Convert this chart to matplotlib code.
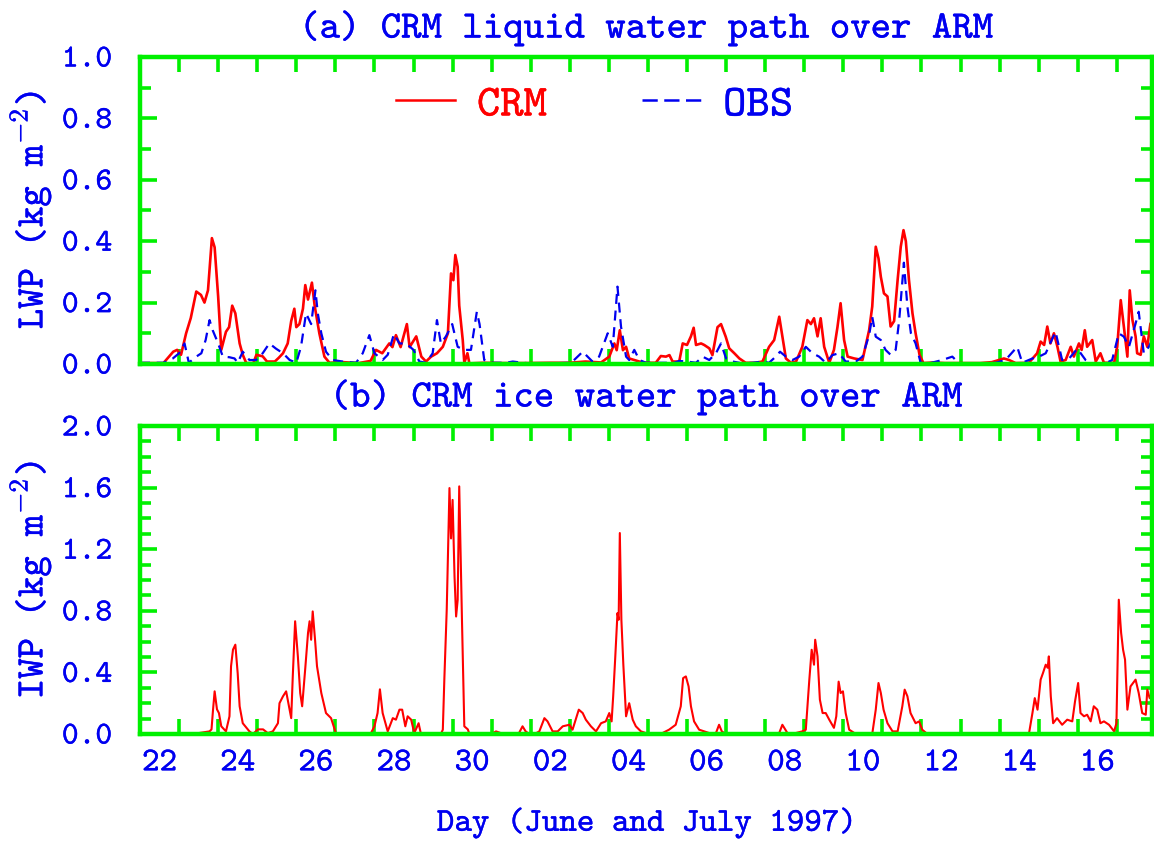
import matplotlib
matplotlib.use("Agg")
import matplotlib.pyplot as plt
import matplotlib.patheffects as pe
from matplotlib.lines import Line2D
import numpy as np

plt.rcParams['mathtext.fontset'] = 'cm'

# time axis: days since 00 UTC 22 June 1997
day_labels = ['22', '24', '26', '28', '30', '02', '04', '06', '08', '10', '12', '14', '16']
label_pos = np.arange(0.5, 25, 2.0)

# (a) CRM liquid water path
lwp_crm_t = [0.0, 0.6, 0.85, 0.95, 1.05, 1.18, 1.30, 1.44, 1.56, 1.65, 1.74, 1.84, 1.91, 2.0, 2.08,
             2.2, 2.28, 2.36, 2.44, 2.55, 2.63, 2.72, 2.9, 2.98, 3.14, 3.25, 3.45, 3.55, 3.66, 3.78,
             3.87, 3.95, 4.0, 4.08, 4.17, 4.23, 4.3, 4.4, 4.47, 4.59, 4.72, 4.85, 5.2, 5.6, 5.9,
             6.04, 6.2, 6.38, 6.46, 6.55, 6.67, 6.83, 6.9, 7.07, 7.2, 7.32, 7.45, 7.6, 7.75, 7.88,
             7.96, 8.02, 8.07, 8.13, 8.17, 8.26, 8.30, 8.38, 8.43, 8.8, 9.3, 9.9,
             10.5, 11.0, 11.4, 11.8, 12.01, 12.14, 12.2, 12.28, 12.36, 12.44, 12.52, 12.65, 12.78,
             12.95, 13.2, 13.33, 13.46, 13.55, 13.63, 13.8, 13.89, 14.0, 14.1, 14.17, 14.23, 14.36,
             14.44, 14.57, 14.65, 14.78, 14.87, 14.99, 15.08, 15.21, 15.34, 15.5, 15.76, 15.93,
             16.1, 16.23, 16.36, 16.44, 16.53, 16.66, 16.79, 16.95, 17.08, 17.17, 17.25, 17.34,
             17.42, 17.51, 17.64, 17.76, 17.85, 17.93, 18.02, 18.11, 18.28, 18.49, 18.66, 18.74,
             18.83, 18.9, 18.96, 19.04, 19.13, 19.21, 19.3, 19.39, 19.47, 19.54, 19.6, 19.68,
             19.77, 19.85, 19.95, 20.05,
             20.3, 20.6, 21.0, 21.5, 21.8, 21.98, 22.11, 22.24, 22.41, 22.75, 22.96, 23.05, 23.14,
             23.22, 23.3, 23.39, 23.48, 23.56, 23.69, 23.82, 23.9, 24.03, 24.1, 24.18, 24.24,
             24.37, 24.46, 24.58, 24.67, 24.93, 25.01, 25.1, 25.16, 25.21, 25.27, 25.33, 25.4,
             25.48, 25.52, 25.61, 25.69, 25.78, 25.86, 25.9]
lwp_crm = [0.003, 0.003, 0.04, 0.046, 0.03, 0.10, 0.15, 0.236, 0.225, 0.20, 0.24, 0.41, 0.38, 0.22, 0.046,
           0.105, 0.12, 0.19, 0.165, 0.067, 0.03, 0.003, 0.003, 0.03, 0.025, 0.008, 0.008, 0.02, 0.035, 0.067,
           0.14, 0.18, 0.12, 0.13, 0.18, 0.257, 0.21, 0.265, 0.19, 0.10, 0.024, 0.004, 0.006, 0.003, 0.01,
           0.046, 0.035, 0.067, 0.055, 0.094, 0.055, 0.13, 0.055, 0.09, 0.024, 0.008, 0.024, 0.035, 0.056, 0.10,
           0.295, 0.273, 0.355, 0.317, 0.19, 0.078, 0.004, 0.035, 0.002, 0.004, 0.003, 0.003,
           0.004, 0.004, 0.008, 0.005, 0.024, 0.067, 0.045, 0.11, 0.045, 0.056, 0.018, 0.013, 0.008,
           0.004, 0.004, 0.026, 0.024, 0.029, 0.008, 0.008, 0.067, 0.062, 0.09, 0.118, 0.062, 0.067,
           0.062, 0.051, 0.029, 0.12, 0.13, 0.089, 0.051, 0.035, 0.018, 0.004, 0.004, 0.008,
           0.056, 0.078, 0.154, 0.09, 0.018, 0.004, 0.008, 0.056, 0.143, 0.13, 0.149, 0.09,
           0.149, 0.056, 0.004, 0.046, 0.12, 0.198, 0.078, 0.024, 0.018, 0.013, 0.11, 0.187,
           0.382, 0.344, 0.284, 0.23, 0.22, 0.122, 0.14, 0.274, 0.382, 0.436, 0.40, 0.274,
           0.165, 0.10, 0.03, 0.003,
           0.005, 0.003, 0.003, 0.003, 0.006, 0.013, 0.018, 0.013, 0.003, 0.004, 0.035, 0.073, 0.062,
           0.122, 0.067, 0.10, 0.056, 0.008, 0.013, 0.056, 0.024, 0.067, 0.046, 0.11, 0.056,
           0.078, 0.008, 0.035, 0.004, 0.004, 0.056, 0.208, 0.143, 0.09, 0.024, 0.24, 0.143,
           0.09, 0.035, 0.03, 0.09, 0.056, 0.132, 0.10]

# (a) observed liquid water path
lwp_obs_t = [0.0, 0.6, 0.84, 1.0, 1.14, 1.25, 1.44, 1.57, 1.68, 1.78, 1.86, 2.0, 2.12, 2.29, 2.42, 2.5,
             2.63, 2.8, 2.97, 3.14, 3.31, 3.48, 3.66, 3.83, 4.0, 4.12, 4.25, 4.38, 4.49, 4.55, 4.64,
             4.76, 4.93, 5.19, 5.53, 5.7, 5.87, 6.0, 6.21, 6.34, 6.5, 6.64, 6.81, 7.0, 7.15, 7.32,
             7.49, 7.6, 7.7, 7.83, 7.99, 8.13, 8.3, 8.47, 8.62, 8.69, 8.81, 9.03, 9.37, 9.54, 9.8,
             10.0, 10.5, 11.0, 11.07, 11.33, 11.58, 11.75, 11.97, 12.1, 12.22, 12.31, 12.44, 12.52,
             12.65, 12.78, 12.95, 13.2, 13.46, 13.63, 13.8, 14.0, 14.23, 14.4, 14.57, 14.74, 14.87,
             15.0, 15.17, 15.42, 15.68, 15.93, 16.1, 16.27, 16.38, 16.53, 16.7, 16.87, 17.04, 17.21,
             17.38, 17.55, 17.72, 17.89, 18.06, 18.32, 18.49, 18.66, 18.74, 18.83, 18.96, 19.08,
             19.21, 19.34, 19.43, 19.55, 19.64, 19.73, 19.85, 19.98,
             20.2, 20.53, 20.79, 20.96, 21.5, 21.9, 22.15, 22.45, 22.58, 22.84, 23.01, 23.18, 23.43,
             23.6, 23.78, 23.99, 24.2, 24.37, 24.71, 24.88, 25.05, 25.18, 25.31, 25.48, 25.56, 25.69,
             25.82, 25.9]
lwp_obs = [0.004, 0.004, 0.018, 0.035, 0.067, 0.004, 0.024, 0.035, 0.078, 0.143, 0.11, 0.067, 0.024, 0.022, 0.018, 0.004,
           0.04, 0.013, 0.013, 0.035, 0.067, 0.05, 0.035, 0.013, 0.004, 0.056, 0.165, 0.13, 0.24, 0.165, 0.10,
           0.04, 0.013, 0.008, 0.004, 0.035, 0.094, 0.035, 0.013, 0.03, 0.098, 0.067, 0.067, 0.046, 0.008, 0.004,
           0.035, 0.143, 0.067, 0.09, 0.13, 0.056, 0.046, 0.046, 0.17, 0.13, 0.013, 0.004, 0.004, 0.008, 0.004,
           0.002, 0.002, 0.004, 0.008, 0.04, 0.008, 0.024, 0.10, 0.056, 0.252, 0.122, 0.024, 0.013,
           0.046, 0.013, 0.004, 0.004, 0.004, 0.002, 0.01, 0.008, 0.004, 0.024, 0.013, 0.035, 0.067,
           0.018, 0.008, 0.002, 0.004, 0.008, 0.004, 0.024, 0.04, 0.024, 0.013, 0.024, 0.056, 0.035,
           0.024, 0.004, 0.029, 0.035, 0.008, 0.008, 0.024, 0.094, 0.154, 0.089, 0.078, 0.046,
           0.03, 0.046, 0.143, 0.33, 0.187, 0.10, 0.067, 0.004,
           0.002, 0.013, 0.024, 0.002, 0.002, 0.004, 0.013, 0.056, 0.004, 0.018, 0.024, 0.035, 0.105,
           0.013, 0.018, 0.05, 0.013, 0.002, 0.002, 0.013, 0.10, 0.089, 0.056, 0.132, 0.17, 0.035,
           0.056, 0.078]

# (b) CRM ice water path
iwp_crm_t = [0.0, 1.4, 1.5, 1.78, 1.83, 1.87, 1.91, 1.97, 2.02, 2.08, 2.2, 2.29, 2.33, 2.38, 2.44, 2.5,
             2.55, 2.63, 2.8, 2.89, 3.02, 3.15, 3.27, 3.4, 3.53, 3.57, 3.66, 3.74, 3.83, 3.87, 3.91,
             3.97, 4.04, 4.1, 4.15, 4.23, 4.3, 4.34, 4.38, 4.42, 4.48, 4.53, 4.64, 4.76, 4.89, 5.02,
             5.9, 6.0, 6.08, 6.14, 6.21, 6.34, 6.47, 6.55, 6.64, 6.71, 6.79, 6.85, 6.94, 7.02, 7.13,
             7.19, 7.7, 7.75, 7.79, 7.85, 7.92, 7.96, 8.0, 8.05, 8.09, 8.13, 8.17, 8.24, 8.3, 8.39,
             8.43, 9.0, 9.11, 9.3, 9.7, 9.79, 9.87, 9.96,
             10.1, 10.22, 10.35, 10.43, 10.56, 10.69, 10.82, 10.99, 11.07, 11.23, 11.33, 11.41, 11.54,
             11.67, 11.8, 11.92, 12.01, 12.07, 12.11, 12.16, 12.22, 12.25, 12.28, 12.32, 12.37, 12.44,
             12.52, 12.61, 12.69, 12.82, 12.95, 13.2, 13.37, 13.54, 13.71, 13.84, 13.9, 13.97, 14.04,
             14.1, 14.18, 14.31, 14.57, 14.74, 14.82, 14.89, 14.99, 16.35, 16.44, 16.57, 16.78, 16.95,
             17.04, 17.13, 17.19, 17.25, 17.28, 17.34, 17.4, 17.47, 17.55, 17.64, 17.76, 17.82, 17.88,
             17.93, 17.99, 18.06, 18.15, 18.32, 18.74, 18.83, 18.9, 18.96, 19.03, 19.13, 19.26, 19.39,
             19.51, 19.57, 19.64, 19.72, 19.85, 19.94, 20.02, 20.15,
             22.75, 22.84, 22.9, 22.97, 23.05, 23.11, 23.18, 23.23, 23.26, 23.31, 23.37, 23.47, 23.6,
             23.73, 23.86, 23.93, 24.01, 24.07, 24.16, 24.24, 24.33, 24.41, 24.5, 24.58, 24.67, 24.8,
             24.93, 24.99, 25.05, 25.11, 25.16, 25.21, 25.27, 25.35, 25.48, 25.56, 25.65, 25.74, 25.78,
             25.84, 25.9]
iwp_crm = [0.0, 0.0, 0.006, 0.017, 0.03, 0.16, 0.277, 0.16, 0.136, 0.05, 0.017, 0.115, 0.44, 0.548, 0.58, 0.395,
           0.18, 0.07, 0.017, 0.0, 0.03, 0.03, 0.006, 0.017, 0.07, 0.2, 0.245, 0.277, 0.158, 0.103, 0.375,
           0.732, 0.505, 0.266, 0.18, 0.428, 0.656, 0.732, 0.612, 0.796, 0.612, 0.44, 0.266, 0.136, 0.103, 0.0,
           0.0, 0.05, 0.136, 0.29, 0.136, 0.017, 0.103, 0.093, 0.158, 0.158, 0.05, 0.115, 0.093, 0.006, 0.07,
           0.0, 0.0, 0.028, 0.363, 0.807, 1.597, 1.27, 1.52, 1.02, 0.763, 0.87, 1.608, 0.742, 0.05, 0.03,
           0.0, 0.0, 0.017, 0.0, 0.006, 0.05, 0.017, 0.0,
           0.0, 0.017, 0.103, 0.082, 0.017, 0.017, 0.05, 0.06, 0.028, 0.158, 0.136, 0.093, 0.05,
           0.017, 0.07, 0.082, 0.136, 0.082, 0.245, 0.483, 0.785, 0.742, 1.305, 0.742, 0.45, 0.115,
           0.2, 0.093, 0.05, 0.017, 0.006, 0.0, 0.006, 0.028, 0.06, 0.18, 0.363, 0.374, 0.309,
           0.18, 0.082, 0.028, 0.006, 0.006, 0.06, 0.017, 0.0, 0.0, 0.06, 0.006, 0.006, 0.017,
           0.028, 0.353, 0.547, 0.45, 0.612, 0.504, 0.223, 0.136, 0.136, 0.093, 0.04, 0.115, 0.34,
           0.266, 0.277, 0.136, 0.028, 0.0, 0.0, 0.158, 0.331, 0.266, 0.158, 0.07, 0.017, 0.017,
           0.18, 0.288, 0.245, 0.136, 0.07, 0.082, 0.028, 0.0,
           0.0, 0.136, 0.233, 0.158, 0.353, 0.396, 0.45, 0.43, 0.504, 0.244, 0.07, 0.103, 0.06,
           0.093, 0.082, 0.212, 0.331, 0.136, 0.115, 0.125, 0.082, 0.18, 0.158, 0.07, 0.082, 0.06,
           0.017, 0.07, 0.872, 0.656, 0.547, 0.483, 0.158, 0.309, 0.353, 0.266, 0.136, 0.125, 0.288,
           0.233, 0.266]

BLUE = '#0000f0'
GREEN = '#00f000'
RED = '#ff0000'
W, H = 1154, 841

fig = plt.figure(figsize=(W / 100, H / 100), dpi=100)
ax1 = fig.add_axes([140 / W, 1 - 364 / H, 1012 / W, 307 / H])
ax2 = fig.add_axes([140 / W, 1 - 734 / H, 1012 / W, 308 / H])


def thicken(txt):
    # cmtt10 is a bit light next to the original plotting font
    txt.set_path_effects([pe.withStroke(linewidth=0.25, foreground=txt.get_color())])


def style(ax, ymax, ystep, show_days):
    ax.set_xlim(0, 25.9)
    ax.set_ylim(0, ymax)
    for s in ax.spines.values():
        s.set_color(GREEN)
        s.set_linewidth(3.2)
    ax.set_xticks(np.arange(1, 26))
    ax.set_xticks(label_pos, labels=day_labels if show_days else [], minor=True)
    ax.tick_params(axis='x', which='major', direction='in', length=11, width=2.6,
                   color=GREEN, top=True, bottom=True, labelbottom=False)
    ax.tick_params(axis='x', which='minor', length=0, pad=11, labelsize=24,
                   labelcolor=BLUE, labelbottom=show_days)
    yt = np.arange(0, ymax + 1e-9, ystep)
    ax.set_yticks(yt, labels=['%.1f' % v for v in yt])
    ax.set_yticks(np.arange(0, ymax + 1e-9, 0.1), minor=True)
    ax.tick_params(axis='y', which='major', direction='in', length=12, width=2.6,
                   color=GREEN, left=True, right=True, pad=20, labelsize=23, labelcolor=BLUE)
    ax.tick_params(axis='y', which='minor', direction='in', length=8, width=2.6,
                   color=GREEN, left=True, right=True)
    for lab in ax.get_xticklabels(minor=True) + ax.get_yticklabels():
        lab.set_family('cmtt10')
        thicken(lab)


ax1.plot(lwp_crm_t, lwp_crm, color=RED, lw=1.9)
ax1.plot(lwp_obs_t, lwp_obs, color=BLUE, lw=1.6, dashes=(4.5, 3))
style(ax1, 1.0, 0.2, False)
thicken(ax1.set_title('(a) CRM liquid water path over ARM', fontsize=28, pad=14,
                      family='cmtt10', color=BLUE))

handles = [Line2D([], [], color=RED, lw=1.8),
           Line2D([], [], color=BLUE, lw=1.8, dashes=(6.1, 2.6))]
leg = ax1.legend(handles, ['CRM', 'OBS'], loc='center left', bbox_to_anchor=(0.253, 0.844),
                 ncol=2, frameon=False, borderpad=0, borderaxespad=0, handlelength=1.32,
                 handletextpad=0.5, columnspacing=2.15,
                 prop={'family': 'cmtt10', 'size': 32}, labelcolor='linecolor')
for t in leg.get_texts():
    thicken(t)

ax2.plot(iwp_crm_t, iwp_crm, color=RED, lw=1.5)
style(ax2, 2.0, 0.4, True)
thicken(ax2.set_title('(b) CRM ice water path over ARM', fontsize=28, pad=14,
                      family='cmtt10', color=BLUE))

for ytxt, yc in [(r'LWP (kg m$^{-2}$)', 210), (r'IWP (kg m$^{-2}$)', 580)]:
    thicken(fig.text(30 / W, 1 - yc / H, ytxt, rotation=90, ha='center', va='center',
                     fontsize=28, family='cmtt10', color=BLUE))
thicken(fig.text(647 / W, 1 - 823 / H, 'Day (June and July 1997)', ha='center', va='center',
                 fontsize=24, family='cmtt10', color=BLUE))

fig.savefig('out.png', dpi=100)
